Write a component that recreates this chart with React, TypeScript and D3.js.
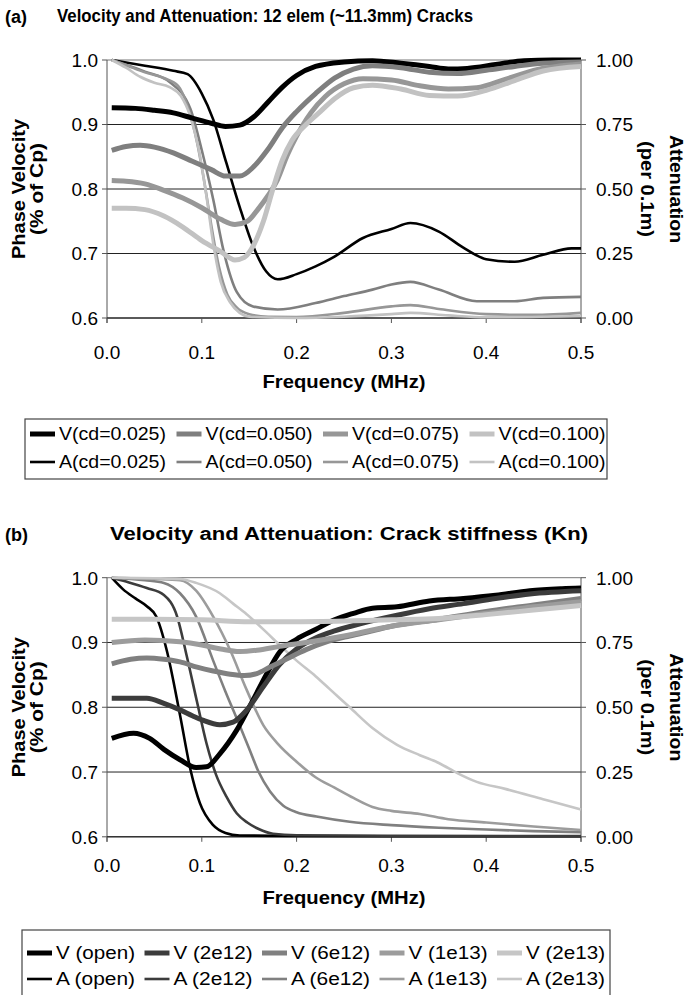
import React from "react";
import * as d3 from "d3";

type Pt = [number, number];

const freqTicks = [0, 0.1, 0.2, 0.3, 0.4, 0.5];
const velTicks = [0.6, 0.7, 0.8, 0.9, 1.0];
const attTicks = [0, 0.25, 0.5, 0.75, 1.0];

// ---- Chart (a): crack density ----
const aNames = ["cd=0.025", "cd=0.050", "cd=0.075", "cd=0.100"];
const aV025: Pt[] = [[0.005,0.926],[0.03,0.925],[0.05,0.922],[0.07,0.918],[0.09,0.91],[0.11,0.902],[0.125,0.897],[0.14,0.899],[0.155,0.912],[0.17,0.935],[0.185,0.958],[0.2,0.976],[0.22,0.99],[0.25,0.997],[0.28,0.999],[0.31,0.995],[0.34,0.99],[0.36,0.986],[0.38,0.987],[0.41,0.993],[0.44,0.999],[0.47,1.0],[0.5,1.0]];
const aV050: Pt[] = [[0.005,0.86],[0.02,0.866],[0.035,0.868],[0.05,0.865],[0.07,0.856],[0.09,0.843],[0.11,0.83],[0.125,0.82],[0.14,0.82],[0.155,0.835],[0.17,0.862],[0.185,0.895],[0.2,0.92],[0.22,0.948],[0.24,0.972],[0.26,0.986],[0.28,0.991],[0.31,0.988],[0.34,0.981],[0.37,0.979],[0.4,0.984],[0.43,0.99],[0.46,0.995],[0.5,0.997]];
const aV075: Pt[] = [[0.005,0.813],[0.02,0.812],[0.04,0.808],[0.06,0.798],[0.08,0.786],[0.1,0.771],[0.12,0.753],[0.135,0.745],[0.148,0.75],[0.16,0.77],[0.17,0.79],[0.18,0.815],[0.19,0.852],[0.2,0.882],[0.215,0.918],[0.23,0.943],[0.25,0.963],[0.27,0.971],[0.3,0.969],[0.33,0.96],[0.36,0.955],[0.39,0.957],[0.42,0.97],[0.45,0.984],[0.5,0.994]];
const aV100: Pt[] = [[0.005,0.77],[0.02,0.77],[0.04,0.768],[0.06,0.758],[0.08,0.741],[0.1,0.72],[0.12,0.703],[0.135,0.69],[0.145,0.694],[0.155,0.714],[0.165,0.75],[0.175,0.8],[0.185,0.845],[0.195,0.875],[0.21,0.9],[0.225,0.92],[0.24,0.94],[0.26,0.957],[0.28,0.961],[0.31,0.955],[0.34,0.945],[0.37,0.944],[0.4,0.953],[0.43,0.968],[0.46,0.983],[0.5,0.99]];
const aA025: Pt[] = [[0.005,1.0],[0.04,0.978],[0.07,0.958],[0.085,0.945],[0.1,0.87],[0.112,0.77],[0.126,0.6],[0.14,0.43],[0.154,0.28],[0.168,0.18],[0.18,0.15],[0.2,0.17],[0.22,0.2],[0.24,0.238],[0.27,0.31],[0.3,0.345],[0.32,0.368],[0.35,0.335],[0.375,0.275],[0.4,0.228],[0.43,0.218],[0.46,0.245],[0.49,0.27],[0.5,0.27]];
const aA050: Pt[] = [[0.005,1.0],[0.04,0.955],[0.066,0.915],[0.088,0.81],[0.1,0.65],[0.112,0.46],[0.123,0.26],[0.137,0.1],[0.154,0.045],[0.18,0.033],[0.22,0.058],[0.25,0.085],[0.28,0.11],[0.3,0.13],[0.32,0.14],[0.35,0.11],[0.39,0.065],[0.43,0.065],[0.46,0.078],[0.5,0.082]];
const aA075: Pt[] = [[0.005,1.0],[0.02,0.98],[0.04,0.952],[0.06,0.93],[0.075,0.9],[0.085,0.82],[0.095,0.68],[0.103,0.52],[0.11,0.36],[0.118,0.2],[0.127,0.09],[0.137,0.04],[0.15,0.015],[0.17,0.005],[0.2,0.004],[0.25,0.02],[0.3,0.045],[0.32,0.05],[0.35,0.035],[0.4,0.015],[0.45,0.012],[0.5,0.02]];
const aA100: Pt[] = [[0.005,1.0],[0.02,0.97],[0.035,0.935],[0.05,0.912],[0.066,0.895],[0.078,0.86],[0.088,0.78],[0.097,0.65],[0.105,0.47],[0.112,0.29],[0.12,0.14],[0.13,0.06],[0.14,0.02],[0.15,0.005],[0.2,0.0],[0.25,0.005],[0.3,0.015],[0.32,0.02],[0.36,0.01],[0.4,0.003],[0.5,0.008]];
const aColors = ["#000000", "#7f7f7f", "#979797", "#c2c2c2"];

// ---- Chart (b): crack stiffness ----
const bNames = ["open", "2e12", "6e12", "1e13", "2e13"];
const bVopen: Pt[] = [[0.005,0.752],[0.028,0.76],[0.045,0.752],[0.06,0.735],[0.077,0.719],[0.094,0.707],[0.105,0.708],[0.119,0.728],[0.137,0.765],[0.154,0.811],[0.169,0.853],[0.182,0.885],[0.2,0.905],[0.22,0.92],[0.24,0.935],[0.26,0.945],[0.28,0.953],[0.306,0.955],[0.34,0.964],[0.376,0.968],[0.41,0.973],[0.446,0.98],[0.48,0.983],[0.5,0.984]];
const bV2e12: Pt[] = [[0.005,0.814],[0.042,0.814],[0.06,0.806],[0.077,0.796],[0.09,0.787],[0.101,0.78],[0.119,0.773],[0.133,0.777],[0.147,0.795],[0.165,0.832],[0.182,0.866],[0.2,0.89],[0.22,0.907],[0.24,0.918],[0.27,0.93],[0.306,0.942],[0.34,0.952],[0.376,0.96],[0.41,0.968],[0.446,0.975],[0.5,0.98]];
const bV6e12: Pt[] = [[0.005,0.867],[0.025,0.874],[0.042,0.876],[0.06,0.874],[0.077,0.87],[0.095,0.862],[0.112,0.856],[0.13,0.851],[0.145,0.849],[0.158,0.852],[0.172,0.862],[0.19,0.875],[0.21,0.889],[0.23,0.9],[0.256,0.91],[0.28,0.918],[0.3,0.925],[0.35,0.936],[0.4,0.948],[0.45,0.958],[0.5,0.968]];
const bV1e13: Pt[] = [[0.005,0.9],[0.04,0.904],[0.077,0.901],[0.1,0.896],[0.12,0.89],[0.14,0.886],[0.158,0.888],[0.182,0.894],[0.21,0.9],[0.25,0.91],[0.3,0.925],[0.35,0.935],[0.4,0.945],[0.45,0.955],[0.5,0.963]];
const bV2e13: Pt[] = [[0.005,0.936],[0.05,0.936],[0.1,0.935],[0.15,0.932],[0.2,0.932],[0.25,0.933],[0.3,0.935],[0.35,0.937],[0.4,0.943],[0.45,0.95],[0.5,0.957]];
const bAopen: Pt[] = [[0.005,1.0],[0.017,0.955],[0.03,0.92],[0.042,0.89],[0.052,0.85],[0.063,0.72],[0.077,0.47],[0.088,0.26],[0.098,0.13],[0.112,0.045],[0.125,0.015],[0.14,0.005],[0.2,0.003],[0.3,0.002],[0.5,0.002]];
const bA2e12: Pt[] = [[0.005,1.0],[0.02,0.985],[0.042,0.96],[0.06,0.933],[0.074,0.85],[0.084,0.7],[0.095,0.52],[0.105,0.36],[0.115,0.24],[0.126,0.155],[0.137,0.09],[0.148,0.055],[0.16,0.03],[0.175,0.012],[0.2,0.006],[0.3,0.004],[0.5,0.003]];
const bA6e12: Pt[] = [[0.005,1.0],[0.04,0.99],[0.06,0.98],[0.077,0.94],[0.094,0.85],[0.112,0.68],[0.125,0.56],[0.14,0.43],[0.15,0.34],[0.16,0.25],[0.172,0.175],[0.186,0.12],[0.2,0.095],[0.221,0.078],[0.256,0.058],[0.3,0.045],[0.35,0.035],[0.4,0.028],[0.45,0.022],[0.5,0.018]];
const bA1e13: Pt[] = [[0.005,1.0],[0.05,0.995],[0.077,0.99],[0.094,0.95],[0.112,0.85],[0.13,0.72],[0.147,0.57],[0.165,0.43],[0.18,0.36],[0.2,0.29],[0.22,0.23],[0.24,0.19],[0.26,0.15],[0.28,0.115],[0.3,0.1],[0.33,0.088],[0.36,0.068],[0.4,0.055],[0.45,0.04],[0.5,0.026]];
const bA2e13: Pt[] = [[0.005,1.0],[0.05,0.998],[0.077,0.995],[0.094,0.98],[0.119,0.94],[0.133,0.9],[0.147,0.86],[0.168,0.79],[0.182,0.74],[0.2,0.68],[0.22,0.62],[0.235,0.57],[0.256,0.5],[0.28,0.42],[0.306,0.355],[0.33,0.315],[0.35,0.285],[0.37,0.245],[0.39,0.212],[0.42,0.185],[0.46,0.145],[0.5,0.105]];
const bColors = ["#000000", "#3c3c3c", "#808080", "#9c9c9c", "#c6c6c6"];

const FONT = "Liberation Sans, Arial, sans-serif";

type ChartProps = {
  top: number;
  bottom: number;
  label: string;
  title: string;
  titleX: number;
  titleW: number;
  vSeries: Pt[][];
  aSeries: Pt[][];
  colors: string[];
  names: string[];
  vPrefix: string;
  aPrefix: string;
  legend: { x: number; y: number; w: number; h: number; pitch: number; row1: number; row2: number; textW: number };
  tickLabelDy: number;
  xTitleDy: number;
};

function Chart(p: ChartProps) {
  const x = d3.scaleLinear().domain([0, 0.5]).range([107, 581]);
  const yV = d3.scaleLinear().domain([0.6, 1.0]).range([p.bottom, p.top]);
  const yA = d3.scaleLinear().domain([0, 1]).range([p.bottom, p.top]);
  const lineV = d3.line<Pt>().x((d) => x(d[0])).y((d) => yV(d[1])).curve(d3.curveMonotoneX);
  const lineA = d3.line<Pt>().x((d) => x(d[0])).y((d) => yA(d[1])).curve(d3.curveMonotoneX);
  const midY = (p.top + p.bottom) / 2;
  const [x0, x1] = x.range();
  const L = p.legend;
  return (
    <g fontFamily={FONT}>
      <text x={5} y={p.top - 37} fontSize={18} fontWeight="bold">{p.label}</text>
      <text x={p.titleX} y={p.top - 38} fontSize={18} fontWeight="bold" textLength={p.titleW} lengthAdjust="spacingAndGlyphs">{p.title}</text>
      {/* gridlines */}
      {velTicks.map((t) => (
        <line key={"g" + t} x1={x0} x2={x1} y1={yV(t)} y2={yV(t)} stroke={t === 1.0 ? "#777" : "#222"} strokeWidth={1} />
      ))}
      {/* axes */}
      <line x1={x0} x2={x0} y1={p.top} y2={p.bottom + 5} stroke="#555" />
      <line x1={x1} x2={x1} y1={p.top} y2={p.bottom + 5} stroke="#555" />
      <line x1={x0} x2={x1} y1={p.bottom} y2={p.bottom} stroke="#222" />
      {velTicks.map((t) => (
        <line key={"lt" + t} x1={x0 - 5} x2={x0} y1={yV(t)} y2={yV(t)} stroke="#555" />
      ))}
      {attTicks.map((t) => (
        <line key={"rt" + t} x1={x1} x2={x1 + 5} y1={yA(t)} y2={yA(t)} stroke="#555" />
      ))}
      {freqTicks.map((t) => (
        <line key={"xt" + t} x1={x(t)} x2={x(t)} y1={p.bottom} y2={p.bottom + 5} stroke="#555" />
      ))}
      {/* tick labels */}
      {velTicks.map((t) => (
        <text key={"ll" + t} x={x0 - 9} y={yV(t)} dy="0.36em" fontSize={19} textAnchor="end">{d3.format(".1f")(t)}</text>
      ))}
      {attTicks.map((t) => (
        <text key={"rl" + t} x={x1 + 15} y={yA(t)} dy="0.36em" fontSize={19} textAnchor="start">{d3.format(".2f")(t)}</text>
      ))}
      {freqTicks.map((t) => (
        <text key={"xl" + t} x={x(t)} y={p.bottom + p.tickLabelDy} dy="0.36em" fontSize={19} textAnchor="middle">{d3.format(".1f")(t)}</text>
      ))}
      {/* axis titles */}
      <text transform={`translate(25,${midY}) rotate(-90)`} fontSize={18} fontWeight="bold" textAnchor="middle" textLength={140} lengthAdjust="spacingAndGlyphs">Phase Velocity</text>
      <text transform={`translate(43,${midY}) rotate(-90)`} fontSize={18} fontWeight="bold" textAnchor="middle" textLength={92} lengthAdjust="spacingAndGlyphs">(% of Cp)</text>
      <text transform={`translate(670,${midY}) rotate(90)`} fontSize={18} fontWeight="bold" textAnchor="middle" textLength={108} lengthAdjust="spacingAndGlyphs">Attenuation</text>
      <text transform={`translate(641,${midY}) rotate(90)`} fontSize={18} fontWeight="bold" textAnchor="middle" textLength={96} lengthAdjust="spacingAndGlyphs">(per 0.1m)</text>
      <text x={(x0 + x1) / 2} y={p.bottom + p.xTitleDy} dy="0.35em" fontSize={18} fontWeight="bold" textAnchor="middle" textLength={163} lengthAdjust="spacingAndGlyphs">Frequency (MHz)</text>
      {/* series */}
      {p.aSeries.map((s, i) => (
        <path key={"a" + i} d={lineA(s) || ""} fill="none" stroke={p.colors[i]} strokeWidth={2.6} />
      ))}
      {p.vSeries.map((s, i) => (
        <path key={"v" + i} d={lineV(s) || ""} fill="none" stroke={p.colors[i]} strokeWidth={5} />
      ))}
      {/* legend */}
      <rect x={L.x} y={L.y} width={L.w} height={L.h} fill="white" stroke="#444" strokeWidth={1.2} />
      {p.names.map((n, i) => (
        <g key={"lg" + i}>
          <line x1={L.x + 5 + i * L.pitch} x2={L.x + 30 + i * L.pitch} y1={L.row1} y2={L.row1} stroke={p.colors[i]} strokeWidth={5} />
          <text x={L.x + 34 + i * L.pitch} y={L.row1} dy="0.35em" fontSize={18} textLength={L.textW} lengthAdjust="spacingAndGlyphs">{p.vPrefix + n + ")"}</text>
          <line x1={L.x + 5 + i * L.pitch} x2={L.x + 30 + i * L.pitch} y1={L.row2} y2={L.row2} stroke={p.colors[i]} strokeWidth={2.6} />
          <text x={L.x + 34 + i * L.pitch} y={L.row2} dy="0.35em" fontSize={18} textLength={L.textW} lengthAdjust="spacingAndGlyphs">{p.aPrefix + n + ")"}</text>
        </g>
      ))}
    </g>
  );
}

export default function App() {
  return (
    <svg width={686} height={995} style={{ position: "absolute", left: 0, top: 0, background: "white" }}>
      <rect width={686} height={995} fill="white" />
      <Chart
        top={60}
        bottom={318}
        label="(a)"
        title="Velocity and Attenuation: 12 elem (~11.3mm) Cracks"
        titleX={57}
        titleW={416}
        vSeries={[aV025, aV050, aV075, aV100]}
        aSeries={[aA025, aA050, aA075, aA100]}
        colors={aColors}
        names={aNames}
        vPrefix="V("
        aPrefix="A("
        legend={{ x: 25, y: 419, w: 582, h: 60, pitch: 146.5, row1: 434, row2: 462, textW: 107 }}
        tickLabelDy={34}
        xTitleDy={64}
      />
      <Chart
        top={577.7}
        bottom={836.8}
        label="(b)"
        title="Velocity and Attenuation: Crack stiffness (Kn)"
        titleX={110}
        titleW={478}
        vSeries={[bVopen, bV2e12, bV6e12, bV1e13, bV2e13]}
        aSeries={[bAopen, bA2e12, bA6e12, bA1e13, bA2e13]}
        colors={bColors}
        names={bNames}
        vPrefix="V ("
        aPrefix="A ("
        legend={{ x: 22, y: 930, w: 588, h: 80, pitch: 117.5, row1: 953, row2: 979, textW: 79 }}
        tickLabelDy={28}
        xTitleDy={61}
      />
    </svg>
  );
}
